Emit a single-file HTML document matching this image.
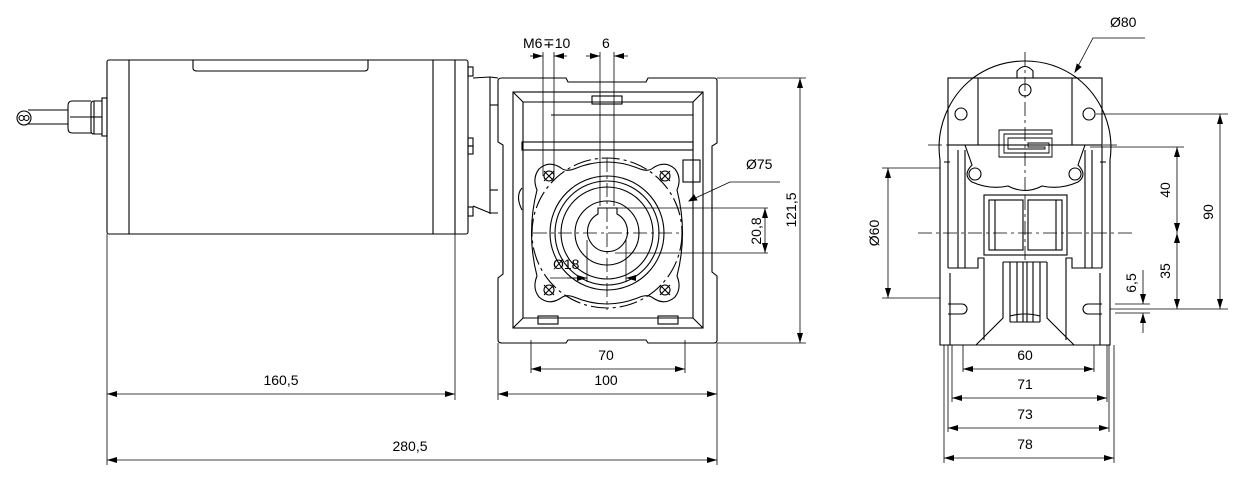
<!DOCTYPE html>
<html><head><meta charset="utf-8"><style>
html,body{margin:0;padding:0;background:#fff;}
svg{display:block}
text{font-family:"Liberation Sans",sans-serif;font-size:14px;fill:#000}
</style></head><body>
<svg width="1247" height="477" viewBox="0 0 1247 477" xmlns="http://www.w3.org/2000/svg">
<defs>
<marker id="a" viewBox="0 0 10 6" refX="10" refY="3" markerWidth="10" markerHeight="6" orient="auto-start-reverse" markerUnits="userSpaceOnUse"><path d="M0,0L10,3L0,6z" fill="#000"/></marker>
</defs>
<g fill="none" stroke="#000" stroke-width="1.1">
<!-- ===== Motor ===== -->
<rect x="107" y="60" width="361" height="174" rx="2"/>
<line x1="129" y1="60" x2="129" y2="234"/>
<line x1="433" y1="60" x2="433" y2="234"/>
<line x1="455" y1="60" x2="455" y2="234"/>
<path d="M193,60 V68 Q193,71 197,71 H364 Q368,71 368,68 V60"/>
<!-- bolts on flange -->
<rect x="468" y="67" width="5" height="9"/>
<rect x="468" y="138" width="5" height="8"/><rect x="468" y="146" width="5" height="8"/>
<rect x="468" y="207" width="5" height="9"/>
<!-- cable gland -->
<rect x="102" y="98" width="5" height="38"/>
<path d="M102,101 H94 Q91,101 91,104 V131 Q91,134 94,134 H102"/>
<line x1="94" y1="101" x2="94" y2="134"/>
<line x1="91" y1="117" x2="102" y2="117"/>
<path d="M91,101 H72 Q68,101 68,106 V128 Q68,133 72,133 H91"/>
<line x1="70" y1="117" x2="91" y2="117"/>
<line x1="68" y1="110" x2="28" y2="110"/><line x1="68" y1="124" x2="28" y2="124"/>
<circle cx="24" cy="118" r="7"/>
<circle cx="21.5" cy="118" r="2.5"/><circle cx="26.5" cy="118" r="2.5"/>
<!-- adapter -->
<path d="M473,78 L490,77 L498,78 M473,206 L490,213 L498,213"/>
<line x1="490" y1="77" x2="490" y2="214"/>
<line x1="490" y1="105" x2="498" y2="105"/><line x1="490" y1="190" x2="498" y2="190"/>
<!-- ===== Gearbox front ===== -->
<path d="M502,78 H566 L568,82 H646 L648,78 H714 Q717,78 717,81 V143 L712,146 V272 L717,276 V340 Q717,343 714,343 H648 L646,340 H568 L566,343 H502 Q498,343 498,340 V278 L503,274 V145 L498,142 V81 Q498,78 502,78 Z"/>
<rect x="513" y="92" width="190" height="236"/>
<path d="M513,92 L523,102 H693 L703,92 M513,328 L523,318 H693 L703,328 M523,102 V318 M693,102 V318"/>
<rect x="592" y="96" width="30" height="8"/>
<rect x="522" y="142" width="171" height="8"/>
<path d="M551,115 H693"/>
<rect x="538" y="316" width="20" height="8"/><rect x="658" y="316" width="20" height="8"/>
<rect x="683" y="160" width="17" height="22"/>
<path d="M522,188 Q515,196 522,210" />
<!-- flange outline -->
<path d="M539,169 Q549,160 561,168 Q566,172 574,169 Q607,155 640,169 Q648,172 653,168 Q665,160 675,169 Q682,178 677,190 Q688,233 677,276 Q682,288 675,297 Q665,306 653,298 Q648,294 640,297 Q607,311 574,297 Q566,294 561,298 Q549,306 539,297 Q532,288 537,276 Q526,233 537,190 Q532,178 539,169 Z"/>
<circle cx="607" cy="233" r="75" stroke-dasharray="18,4,3,4"/>
<circle cx="607" cy="233" r="57"/>
<circle cx="607" cy="233" r="52"/>
<circle cx="607" cy="233" r="46"/>
<circle cx="607" cy="233" r="32"/>
<path d="M598,214 V208 H617 V214 A20,20 0 1 1 598,214 Z"/>
<circle cx="549" cy="176" r="5"/><circle cx="665" cy="176" r="5"/>
<circle cx="549" cy="290" r="5"/><circle cx="665" cy="290" r="5"/>
<path d="M544,171l10,10M554,171l-10,10M660,171l10,10M670,171l-10,10M544,285l10,10M554,285l-10,10M660,285l10,10M670,285l-10,10"/>
</g>
<g fill="none" stroke="#000" stroke-width="0.8" stroke-dasharray="14,4,3,4">
<line x1="533" y1="233" x2="683" y2="233"/>
<line x1="607" y1="158" x2="607" y2="310"/>
<line x1="918" y1="233" x2="1135" y2="233"/>
<line x1="1025" y1="52" x2="1025" y2="196"/>
<line x1="928" y1="145" x2="1120" y2="145"/>
<line x1="1025" y1="196" x2="1025" y2="260"/>
</g>
<g fill="none" stroke="#000" stroke-width="0.8">
<!-- front view dims -->
<line x1="543" y1="52" x2="543" y2="176"/><line x1="554" y1="52" x2="554" y2="176"/>
<line x1="530" y1="56" x2="543" y2="56" marker-end="url(#a)"/><line x1="567" y1="56" x2="554" y2="56" marker-end="url(#a)"/>
<line x1="600" y1="52" x2="600" y2="206"/><line x1="614" y1="52" x2="614" y2="206"/>
<line x1="586" y1="56" x2="600" y2="56" marker-end="url(#a)"/><line x1="628" y1="56" x2="614" y2="56" marker-end="url(#a)"/>
<line x1="717" y1="78" x2="806" y2="78"/><line x1="717" y1="343" x2="806" y2="343"/>
<line x1="800" y1="78" x2="800" y2="343" marker-start="url(#a)" marker-end="url(#a)"/>
<line x1="615" y1="208" x2="768" y2="208"/><line x1="615" y1="253" x2="768" y2="253"/>
<line x1="765" y1="208" x2="765" y2="253" marker-start="url(#a)" marker-end="url(#a)"/>
<path d="M689,201 L730,182 H780"/><path d="M689,201 l8,-1 l-3,-5z" fill="#000"/>
<line x1="550" y1="278" x2="587" y2="278"/>
<line x1="567" y1="278" x2="587" y2="278" marker-end="url(#a)"/>
<line x1="636" y1="278" x2="626" y2="278" marker-end="url(#a)"/>
<line x1="587" y1="240" x2="587" y2="282"/><line x1="626" y1="240" x2="626" y2="282"/>
<line x1="531" y1="340" x2="531" y2="373"/><line x1="685" y1="340" x2="685" y2="373"/>
<line x1="531" y1="369" x2="685" y2="369" marker-start="url(#a)" marker-end="url(#a)"/>
<line x1="498" y1="343" x2="498" y2="400"/><line x1="717" y1="343" x2="717" y2="465"/>
<line x1="498" y1="394" x2="717" y2="394" marker-start="url(#a)" marker-end="url(#a)"/>
<line x1="107" y1="234" x2="107" y2="465"/><line x1="455" y1="234" x2="455" y2="400"/>
<line x1="107" y1="394" x2="455" y2="394" marker-start="url(#a)" marker-end="url(#a)"/>
<line x1="107" y1="460" x2="717" y2="460" marker-start="url(#a)" marker-end="url(#a)"/>
</g>
<g fill="none" stroke="#000" stroke-width="1.1">
<!-- ===== Right view ===== -->
<path d="M940,160 A88,88 0 0 1 973,78 M1077,78 A88,88 0 0 1 1110,160"/>
<path d="M973,78 A88,88 0 0 1 1077,78"/>
<rect x="948" y="78" width="154" height="67"/>
<line x1="978" y1="78" x2="978" y2="145"/><line x1="1072" y1="78" x2="1072" y2="145"/>
<path d="M1017,78 V71 Q1025,62 1033,71 V78"/>
<circle cx="1025" cy="90" r="6"/>
<circle cx="961" cy="114" r="6"/><circle cx="1089" cy="114" r="6"/>
<path d="M999,130 H1052 V134 H1004 V153 H1049 V143 H1028 V147 H1045 V149 H1008 V138 H1052 V157 H999 Z" stroke-width="0.9"/>
<path d="M965,145 L972,165 Q962,175 972,182 Q990,190 1008,186 Q1025,195 1042,186 Q1060,190 1078,182 Q1088,175 1078,165 L1085,145"/>
<circle cx="975" cy="174" r="6"/><circle cx="1075" cy="174" r="6"/>
<rect x="984" y="195" width="83" height="60"/>
<rect x="989" y="200" width="34" height="50"/><rect x="1028" y="200" width="34" height="50"/>
<line x1="995" y1="200" x2="995" y2="250"/><line x1="1056" y1="200" x2="1056" y2="250"/>
<path d="M948,145 V268 M1102,145 V268"/>
<path d="M940,160 V300 M1110,160 V300"/>
<path d="M944,162 H950 M1100,162 H1106"/>
<path d="M958,150 V268 M1092,150 V268 M965,150 V268 M1085,150 V268"/>
<path d="M948,268 H978 V258 H984 V340 M1102,268 H1072 V258 H1066 V340"/>
<path d="M950,273 V345 H976 L1003,318 V262 M1100,273 V345 H1074 L1047,318 V262"/>
<path d="M1003,262 H1047 M1010,262 V322 M1017,262 V322 M1023,262 V322 M1027,262 V322 M1033,262 V322 M1040,262 V322 M1010,322 H1040 M1010,316 Q1025,312 1040,316"/>
<path d="M948,304 H962 A5,5 0 0 1 962,314 H948 M1102,304 H1088 A5,5 0 0 0 1088,314 H1102"/>
<path d="M940,300 V345 H1110 V300"/>
</g>
<g fill="none" stroke="#000" stroke-width="0.8">
<path d="M1075,72 L1093,38 H1145"/><path d="M1075,72 l2,-8 l4,3z" fill="#000"/>
<line x1="1096" y1="114" x2="1228" y2="114"/><line x1="1110" y1="309" x2="1228" y2="309"/>
<line x1="1220" y1="114" x2="1220" y2="309" marker-start="url(#a)" marker-end="url(#a)"/>
<line x1="1090" y1="147" x2="1184" y2="147"/>
<line x1="1177" y1="147" x2="1177" y2="233" marker-start="url(#a)" marker-end="url(#a)"/>
<line x1="1177" y1="233" x2="1177" y2="309" marker-start="url(#a)" marker-end="url(#a)"/>
<line x1="1115" y1="304" x2="1150" y2="304"/><line x1="1115" y1="313" x2="1150" y2="313"/>
<line x1="1143" y1="270" x2="1143" y2="304" marker-end="url(#a)"/><line x1="1143" y1="333" x2="1143" y2="313" marker-end="url(#a)"/>
<line x1="882" y1="168" x2="940" y2="168"/><line x1="882" y1="298" x2="940" y2="298"/>
<line x1="888" y1="168" x2="888" y2="298" marker-start="url(#a)" marker-end="url(#a)"/>
<line x1="963" y1="345" x2="963" y2="372"/><line x1="1094" y1="345" x2="1094" y2="372"/>
<line x1="963" y1="369" x2="1094" y2="369" marker-start="url(#a)" marker-end="url(#a)"/>
<line x1="952" y1="345" x2="952" y2="402"/><line x1="1107" y1="345" x2="1107" y2="402"/>
<line x1="952" y1="398" x2="1107" y2="398" marker-start="url(#a)" marker-end="url(#a)"/>
<line x1="948" y1="345" x2="948" y2="432"/><line x1="1109" y1="345" x2="1109" y2="432"/>
<line x1="948" y1="428" x2="1109" y2="428" marker-start="url(#a)" marker-end="url(#a)"/>
<line x1="944" y1="345" x2="944" y2="463"/><line x1="1114" y1="345" x2="1114" y2="463"/>
<line x1="944" y1="458" x2="1114" y2="458" marker-start="url(#a)" marker-end="url(#a)"/>
</g>
<g>
<text x="523" y="48">M6</text><text x="543" y="48">∓10</text>
<text x="602" y="48">6</text>
<text x="746" y="169">Ø75</text>
<text x="553" y="269">Ø18</text>
<text x="606" y="360" text-anchor="middle">70</text>
<text x="606" y="385" text-anchor="middle">100</text>
<text x="281" y="385" text-anchor="middle">160,5</text>
<text x="410" y="451" text-anchor="middle">280,5</text>
<text transform="translate(796,210) rotate(-90)" text-anchor="middle">121,5</text>
<text transform="translate(761,231) rotate(-90)" text-anchor="middle">20,8</text>
<text x="1110" y="27">Ø80</text>
<text transform="translate(879,233) rotate(-90)" text-anchor="middle">Ø60</text>
<text transform="translate(1170,190) rotate(-90)" text-anchor="middle">40</text>
<text transform="translate(1170,271) rotate(-90)" text-anchor="middle">35</text>
<text transform="translate(1213,212) rotate(-90)" text-anchor="middle">90</text>
<text transform="translate(1136,283) rotate(-90)" text-anchor="middle">6,5</text>
<text x="1025" y="360" text-anchor="middle">60</text>
<text x="1025" y="389" text-anchor="middle">71</text>
<text x="1025" y="419" text-anchor="middle">73</text>
<text x="1025" y="449" text-anchor="middle">78</text>
</g>
</svg>
</body></html>
